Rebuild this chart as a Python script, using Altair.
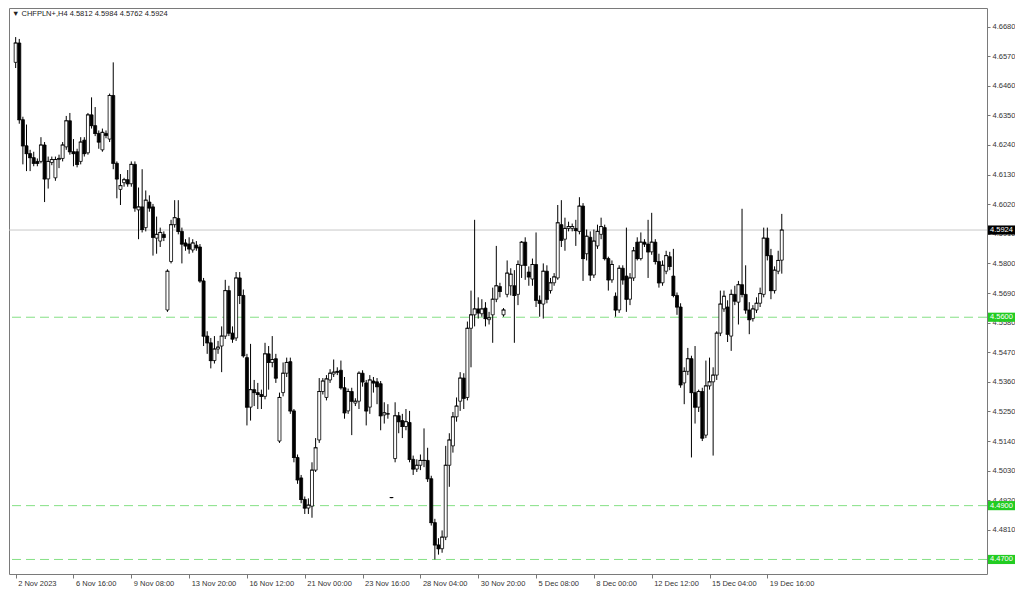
import altair as alt
import pandas as pd

# ---- OHLC values (CHFPLN+, H4) ----
opens = [4.6547, 4.6619, 4.6334, 4.6237, 4.6208, 4.6193, 4.6179, 4.6179, 4.6240, 4.6114,
         4.6175, 4.6118, 4.6186, 4.6190, 4.6233, 4.6330, 4.6215, 4.6215, 4.6179, 4.6258,
         4.6211, 4.6352, 4.6312, 4.6283, 4.6222, 4.6283, 4.6262, 4.6424, 4.6172, 4.6075,
         4.6100, 4.6111, 4.6096, 4.6168, 4.5999, 4.6010, 4.5933, 4.6028, 4.6010, 4.5894,
         4.5883, 4.5908, 4.5627, 4.5807, 4.5944, 4.5967, 4.5919, 4.5876, 4.5872, 4.5850,
         4.5868, 4.5861, 4.5735, 4.5530, 4.5505, 4.5439, 4.5482, 4.5493, 4.5530, 4.5699,
         4.5541, 4.5523, 4.5746, 4.5681, 4.5450, 4.5266, 4.5331, 4.5320, 4.5313, 4.5306,
         4.5464, 4.5432, 4.5446, 4.5140, 4.5320, 4.5392, 4.5435, 4.5252, 4.5079, 4.5003,
         4.4923, 4.4891, 4.4898, 4.5032, 4.5144, 4.5324, 4.5302, 4.5367, 4.5389, 4.5399,
         4.5403, 4.5338, 4.5252, 4.5324, 4.5281, 4.5288, 4.5392, 4.5356, 4.5266, 4.5363,
         4.5360, 4.5353, 4.5237, 4.5241, 4.4930, 4.5075, 4.5234, 4.5216, 4.5194, 4.5209,
         4.5072, 4.5036, 4.5050, 4.5068, 4.5068, 4.5000, 4.4837, 4.4754, 4.4740, 4.4783,
         4.5050, 4.5122, 4.5230, 4.5288, 4.5374, 4.5302, 4.5559, 4.5609, 4.5631, 4.5613,
         4.5634, 4.5591, 4.5609, 4.5667, 4.5714, 4.5609, 4.5685, 4.5717, 4.5717, 4.5685,
         4.5793, 4.5879, 4.5768, 4.5742, 4.5796, 4.5663, 4.5649, 4.5771, 4.5699, 4.5728,
         4.5746, 4.5944, 4.5890, 4.5930, 4.5930, 4.5930, 4.5919, 4.6013, 4.5836, 4.5897,
         4.5757, 4.5865, 4.5908, 4.5933, 4.5818, 4.5739, 4.5678, 4.5627, 4.5782, 4.5753,
         4.5667, 4.5746, 4.5879, 4.5818, 4.5879, 4.5872, 4.5843, 4.5879, 4.5807, 4.5728,
         4.5771, 4.5825, 4.5753, 4.5681, 4.5638, 4.5356, 4.5399, 4.5446, 4.5320, 4.5266,
         4.5324, 4.5162, 4.5345, 4.5360, 4.5385, 4.5541, 4.5631, 4.5638, 4.5530, 4.5685,
         4.5656, 4.5721, 4.5685, 4.5627, 4.5595, 4.5627, 4.5652, 4.5685, 4.5894, 4.5829,
         4.5699, 4.5771, 4.5812]

closes = [4.6619, 4.6334, 4.6237, 4.6208, 4.6193, 4.6172, 4.6172, 4.6240, 4.6114, 4.6179,
          4.6186, 4.6186, 4.6190, 4.6240, 4.6330, 4.6215, 4.6208, 4.6168, 4.6251, 4.6208,
          4.6352, 4.6312, 4.6283, 4.6251, 4.6287, 4.6276, 4.6424, 4.6172, 4.6114, 4.6089,
          4.6111, 4.6096, 4.6168, 4.6006, 4.6010, 4.5926, 4.6035, 4.6006, 4.5897, 4.5908,
          4.5915, 4.5897, 4.5771, 4.5944, 4.5970, 4.5919, 4.5872, 4.5865, 4.5854, 4.5876,
          4.5858, 4.5735, 4.5530, 4.5505, 4.5439, 4.5482, 4.5489, 4.5530, 4.5699, 4.5541,
          4.5519, 4.5746, 4.5681, 4.5457, 4.5266, 4.5331, 4.5320, 4.5313, 4.5306, 4.5464,
          4.5432, 4.5443, 4.5374, 4.5302, 4.5392, 4.5432, 4.5252, 4.5079, 4.4996, 4.4923,
          4.4891, 4.4902, 4.5032, 4.5115, 4.5324, 4.5363, 4.5371, 4.5392, 4.5396, 4.5396,
          4.5338, 4.5245, 4.5324, 4.5288, 4.5288, 4.5392, 4.5360, 4.5252, 4.5367, 4.5356,
          4.5342, 4.5234, 4.5245, 4.5241, 4.4930, 4.5234, 4.5212, 4.5194, 4.5212, 4.5072,
          4.5036, 4.5050, 4.5068, 4.5068, 4.5000, 4.4837, 4.4754, 4.4740, 4.4783, 4.5050,
          4.5144, 4.5230, 4.5270, 4.5374, 4.5299, 4.5559, 4.5609, 4.5631, 4.5616, 4.5631,
          4.5595, 4.5598, 4.5667, 4.5717, 4.5696, 4.5627, 4.5764, 4.5760, 4.5681, 4.5796,
          4.5879, 4.5793, 4.5750, 4.5796, 4.5663, 4.5652, 4.5771, 4.5667, 4.5728, 4.5750,
          4.5951, 4.5886, 4.5930, 4.5937, 4.5937, 4.5922, 4.6013, 4.5818, 4.5901, 4.5757,
          4.5883, 4.5919, 4.5937, 4.5818, 4.5739, 4.5796, 4.5627, 4.5782, 4.5739, 4.5667,
          4.5746, 4.5847, 4.5818, 4.5879, 4.5872, 4.5843, 4.5879, 4.5807, 4.5728, 4.5793,
          4.5829, 4.5789, 4.5681, 4.5638, 4.5349, 4.5399, 4.5446, 4.5320, 4.5266, 4.5324,
          4.5151, 4.5345, 4.5360, 4.5385, 4.5541, 4.5649, 4.5678, 4.5537, 4.5685, 4.5660,
          4.5721, 4.5685, 4.5627, 4.5591, 4.5631, 4.5652, 4.5688, 4.5894, 4.5829, 4.5699,
          4.5775, 4.5811, 4.5924]

highs = [4.6641, 4.6634, 4.6345, 4.6316, 4.6222, 4.6215, 4.6190, 4.6269, 4.6251, 4.6197,
         4.6197, 4.6197, 4.6204, 4.6251, 4.6348, 4.6359, 4.6262, 4.6226, 4.6269, 4.6269,
         4.6359, 4.6417, 4.6381, 4.6294, 4.6301, 4.6294, 4.6431, 4.6547, 4.6179, 4.6132,
         4.6118, 4.6147, 4.6179, 4.6179, 4.6082, 4.6150, 4.6071, 4.6053, 4.6021, 4.5974,
         4.5933, 4.5919, 4.5778, 4.5962, 4.6035, 4.6035, 4.5933, 4.5890, 4.5897, 4.5890,
         4.5883, 4.5872, 4.5746, 4.5548, 4.5523, 4.5530, 4.5512, 4.5566, 4.5739, 4.5717,
         4.5566, 4.5768, 4.5768, 4.5703, 4.5464, 4.5501, 4.5367, 4.5356, 4.5331, 4.5505,
         4.5493, 4.5530, 4.5464, 4.5320, 4.5432, 4.5450, 4.5450, 4.5259, 4.5090, 4.5014,
         4.4934, 4.4927, 4.5061, 4.5151, 4.5374, 4.5374, 4.5385, 4.5407, 4.5443, 4.5414,
         4.5439, 4.5378, 4.5335, 4.5338, 4.5299, 4.5399, 4.5403, 4.5367, 4.5385, 4.5378,
         4.5374, 4.5363, 4.5284, 4.5277, 4.4932, 4.5284, 4.5248, 4.5241, 4.5259, 4.5252,
         4.5086, 4.5072, 4.5090, 4.5187, 4.5115, 4.5011, 4.4851, 4.4779, 4.4808, 4.5122,
         4.5169, 4.5248, 4.5302, 4.5396, 4.5392, 4.5584, 4.5699, 4.5962, 4.5674, 4.5667,
         4.5656, 4.5620, 4.5710, 4.5865, 4.5728, 4.5634, 4.5811, 4.5782, 4.5775, 4.5811,
         4.5883, 4.5897, 4.5789, 4.5818, 4.5915, 4.5681, 4.5800, 4.5793, 4.5746, 4.5764,
         4.6017, 4.6035, 4.5970, 4.5955, 4.5948, 4.5962, 4.6046, 4.6024, 4.5926, 4.5919,
         4.5926, 4.5944, 4.5970, 4.5944, 4.5825, 4.5811, 4.5692, 4.5793, 4.5793, 4.5933,
         4.5764, 4.5861, 4.5897, 4.5915, 4.5890, 4.5962, 4.5988, 4.5890, 4.5836, 4.5811,
         4.5847, 4.5843, 4.5854, 4.5692, 4.5652, 4.5414, 4.5486, 4.5457, 4.5493, 4.5331,
         4.5338, 4.5439, 4.5450, 4.5414, 4.5548, 4.5699, 4.5699, 4.5663, 4.5703, 4.5717,
         4.5735, 4.6003, 4.5793, 4.5656, 4.5645, 4.5674, 4.5710, 4.5933, 4.5933, 4.5854,
         4.5789, 4.5847, 4.5984]

lows = [4.6526, 4.6319, 4.6168, 4.6143, 4.6143, 4.6161, 4.6161, 4.6172, 4.6028, 4.6078,
        4.6165, 4.6107, 4.6154, 4.6179, 4.6222, 4.6204, 4.6161, 4.6157, 4.6168, 4.6197,
        4.6204, 4.6301, 4.6273, 4.6226, 4.6215, 4.6265, 4.6251, 4.6150, 4.6042, 4.6017,
        4.6085, 4.6085, 4.6085, 4.5992, 4.5890, 4.5915, 4.5919, 4.5992, 4.5829, 4.5836,
        4.5861, 4.5883, 4.5620, 4.5800, 4.5933, 4.5908, 4.5800, 4.5847, 4.5836, 4.5840,
        4.5847, 4.5728, 4.5493, 4.5464, 4.5410, 4.5428, 4.5464, 4.5396, 4.5519, 4.5530,
        4.5505, 4.5512, 4.5649, 4.5450, 4.5198, 4.5216, 4.5270, 4.5259, 4.5259, 4.5295,
        4.5331, 4.5414, 4.5356, 4.5133, 4.5306, 4.5378, 4.5241, 4.5061, 4.4981, 4.4909,
        4.4869, 4.4869, 4.4855, 4.5025, 4.5133, 4.5313, 4.5291, 4.5356, 4.5378, 4.5385,
        4.5331, 4.5223, 4.5241, 4.5162, 4.5270, 4.5259, 4.5342, 4.5198, 4.5241, 4.5320,
        4.5277, 4.5180, 4.5205, 4.5223, 4.4928, 4.5061, 4.5169, 4.5151, 4.5180, 4.5061,
        4.5014, 4.5025, 4.5032, 4.5043, 4.4988, 4.4826, 4.4700, 4.4718, 4.4725, 4.4772,
        4.4970, 4.5097, 4.5212, 4.5252, 4.5259, 4.5291, 4.5414, 4.5566, 4.5595, 4.5602,
        4.5566, 4.5573, 4.5505, 4.5656, 4.5674, 4.5602, 4.5674, 4.5681, 4.5505, 4.5645,
        4.5746, 4.5739, 4.5717, 4.5717, 4.5638, 4.5602, 4.5595, 4.5652, 4.5688, 4.5717,
        4.5739, 4.5861, 4.5847, 4.5919, 4.5919, 4.5865, 4.5908, 4.5735, 4.5811, 4.5735,
        4.5746, 4.5854, 4.5890, 4.5811, 4.5699, 4.5728, 4.5602, 4.5616, 4.5721, 4.5620,
        4.5645, 4.5735, 4.5811, 4.5811, 4.5861, 4.5746, 4.5832, 4.5796, 4.5710, 4.5717,
        4.5760, 4.5775, 4.5674, 4.5609, 4.5338, 4.5277, 4.5385, 4.5079, 4.5205, 4.5248,
        4.5140, 4.5151, 4.5331, 4.5086, 4.5367, 4.5530, 4.5620, 4.5508, 4.5475, 4.5645,
        4.5573, 4.5674, 4.5613, 4.5537, 4.5584, 4.5616, 4.5638, 4.5674, 4.5811, 4.5667,
        4.5688, 4.5760, 4.5762]

x_labels = ["2 Nov 2023", "6 Nov 16:00", "9 Nov 08:00", "13 Nov 20:00", "16 Nov 12:00",
            "21 Nov 00:00", "23 Nov 16:00", "28 Nov 04:00", "30 Nov 20:00", "5 Dec 08:00",
            "8 Dec 00:00", "12 Dec 12:00", "15 Dec 04:00", "19 Dec 16:00"]
x_label_bars = [0, 16, 32, 48, 64, 80, 96, 112, 128, 144, 160, 176, 192, 208]
y_ticks = [4.4700, 4.4810, 4.4920, 4.5030, 4.5140, 4.5250, 4.5360, 4.5470, 4.5580,
           4.5690, 4.5800, 4.5910, 4.6020, 4.6130, 4.6240, 4.6350, 4.6460, 4.6570, 4.6680]

current_price = 4.5924
level_prices = [4.5600, 4.4900, 4.4700]
title_text = "\u25BC CHFPLN+,H4  4.5812 4.5984 4.5762 4.5924"

# ---- tables ----
n = min(len(opens), len(closes), len(highs), len(lows))
df = pd.DataFrame({
    "i": list(range(n)),
    "open": opens[:n], "close": closes[:n], "high": highs[:n], "low": lows[:n],
})
df["bull"] = df["close"] >= df["open"]

levels_df = pd.DataFrame({"price": level_prices})
cur_df = pd.DataFrame({"price": [current_price]})
tags = [(current_price, "#000000")] + [(p, "#22cc22") for p in level_prices]
tags_df = pd.DataFrame({
    "price": [t[0] for t in tags],
    "color": [t[1] for t in tags],
    "label": [f"{t[0]:.4f}" for t in tags],
})
half = 0.0017
tags_df["lo"] = tags_df["price"] - half
tags_df["hi"] = tags_df["price"] + half

W, H = 978, 566
FONT = "Liberation Sans"

xscale = alt.Scale(domain=[-0.46, 267.4], nice=False, zero=False)
yscale = alt.Scale(domain=[4.4646, 4.6749], nice=False, zero=False)

label_expr = "[" + ",".join(f"'{s}'" for s in x_labels) + "][round(datum.value/16)]"
xaxis = alt.Axis(values=x_label_bars, labelExpr=label_expr, title=None, grid=False,
                 domain=False, ticks=True, tickSize=4, tickColor="#777",
                 labelAlign="left", labelOffset=2, labelPadding=1, labelFontSize=7.5,
                 labelColor="#333", labelFont=FONT, labelFlush=False, labelOverlap=False)
yaxis = alt.Axis(orient="right", values=y_ticks, format=".4f", title=None, grid=False,
                 domain=False, tickSize=3, tickColor="#777", labelPadding=2,
                 labelFontSize=7.5, labelColor="#333", labelFont=FONT, labelOverlap=False)

X = alt.X("i:Q", scale=xscale, axis=xaxis)

levels = alt.Chart(levels_df).mark_rule(color="#66d866", strokeDash=[9, 5], strokeWidth=1,
                                         opacity=0.8).encode(
    y=alt.Y("price:Q", scale=yscale, axis=yaxis))
cur = alt.Chart(cur_df).mark_rule(color="#c8c8c8", strokeWidth=1).encode(
    y=alt.Y("price:Q", scale=yscale, axis=yaxis))

wicks = alt.Chart(df).mark_rule(color="#000000", strokeWidth=1).encode(
    x=X, y=alt.Y("low:Q", scale=yscale, axis=yaxis), y2="high:Q")

bodies = alt.Chart(df).mark_bar(size=3, stroke="#000000", strokeWidth=0.8).encode(
    x=X, y=alt.Y("open:Q", scale=yscale, axis=yaxis), y2="close:Q",
    fill=alt.condition(alt.datum.bull, alt.value("#ffffff"), alt.value("#000000")))

dojis = alt.Chart(df).mark_tick(orient="horizontal", size=4, thickness=1, color="#000000").encode(
    x=X, y=alt.Y("close:Q", scale=yscale, axis=yaxis))

tag_rects = alt.Chart(tags_df).mark_rect(clip=False).encode(
    x=alt.value(W + 1), x2=alt.value(W + 28),
    y=alt.Y("lo:Q", scale=yscale, axis=yaxis), y2="hi:Q",
    fill=alt.Color("color:N", scale=None))
tag_text = alt.Chart(tags_df).mark_text(clip=False, align="left", baseline="middle",
                                         fontSize=7.5, font=FONT, color="#ffffff").encode(
    x=alt.value(W + 3), y=alt.Y("price:Q", scale=yscale, axis=yaxis), text="label:N")

title = alt.Chart(pd.DataFrame({"t": [title_text]})).mark_text(
    align="left", baseline="middle", fontSize=7.5, font=FONT, color="#222").encode(
    x=alt.value(3), y=alt.value(6), text="t:N")

chart = alt.layer(levels, cur, wicks, bodies, dojis, tag_rects, tag_text, title).properties(
    width=W, height=H, padding={"left": 0, "top": 0, "right": 0, "bottom": 0},
    background="#ffffff",
).configure_view(stroke="#7a7a7a", strokeWidth=1)

chart.save("out.html", embed_options={"renderer": "svg", "actions": False})
